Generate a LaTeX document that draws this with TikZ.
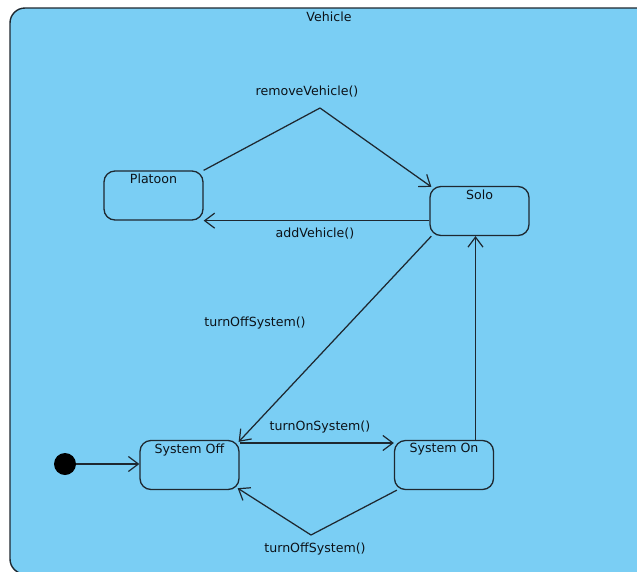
\documentclass[tikz,border=0pt]{standalone}
\usepackage{fontspec}
\setmainfont{DejaVu Sans}
\usetikzlibrary{arrows.meta}
\definecolor{skyfill}{RGB}{122,206,244}
\definecolor{inkline}{RGB}{30,40,48}
\definecolor{inktext}{RGB}{12,18,24}
\begin{document}
\begin{tikzpicture}[x=1pt,y=-1pt,
  every node/.style={font=\fontsize{12.6}{15}\selectfont, text=inktext},
  statebox/.style={draw=inkline, line width=1.3pt, rounded corners=11pt,
    minimum width=99pt, minimum height=49pt, inner sep=0pt},
  title/.style={anchor=north, inner sep=0pt, yshift=-3.5pt},
  trans/.style={draw=inkline, line width=1.25pt,
    -{Straight Barb[length=10pt,width=15pt,line width=1.2pt]}},
  plain/.style={draw=inkline, line width=1.25pt},
  lbl/.style={inner sep=1pt}]
\useasboundingbox (0,0) rectangle (637,571);
\begin{scope}
  \clip (0,0) rectangle (637,571);
  \draw[fill=skyfill, draw=inkline, line width=1.4pt, rounded corners=15pt]
    (10,8) rectangle (680,574);
\end{scope}
\node[lbl] (vehicle) at (329,17) {Vehicle};

% states
\node[statebox] (platoon) at (153.5,195.5) {};
\node[title] (platoonT) at (platoon.north) {Platoon};
\node[statebox] (solo) at (479.5,211) {};
\node[title] (soloT) at (solo.north) {Solo};
\node[statebox] (off) at (189.5,465) {};
\node[title] (offT) at (off.north) {System Off};
\node[statebox] (on) at (444,465) {};
\node[title] (onT) at (on.north) {System On};

% initial pseudostate
\node[circle, fill=black, minimum size=22pt, inner sep=0pt] (init) at (65,464) {};

% bend points
\coordinate (rvPeak) at (320,108);
\coordinate (offPeak) at (311,535);

% transitions (yshift is in page units: positive moves up)
\draw[trans] (init.east) -- (off.west |- init.east);
\draw[plain] (platoon.north east) -- (rvPeak);
\draw[trans] (rvPeak) -- ([xshift=2pt,yshift=-1pt]solo.north west);
\node[lbl] (lRemove) at (307,92) {removeVehicle()};
\draw[trans] (solo.west |- platoon.south east) -- (platoon.south east);
\node[lbl] (lAdd) at (315,234) {addVehicle()};
\draw[trans] ([xshift=2pt]solo.south west) -- ([xshift=-1pt,yshift=-2pt]off.north east);
\node[lbl] (lOff1) at (255,323) {turnOffSystem()};
\draw[trans] ([yshift=22pt]off.east) -- ([yshift=22pt]on.west);
\node[lbl] (lOn) at (320,427) {turnOnSystem()};
\draw[trans] (on.north -| 475.5,0) -- (solo.south -| 475.5,0);
\draw[plain] ([xshift=3pt]on.south west) -- (offPeak);
\draw[trans] (offPeak) -- ([xshift=-2pt,yshift=2pt]off.south east);
\node[lbl] (lOff2) at (315,549) {turnOffSystem()};
\end{tikzpicture}
\end{document}
